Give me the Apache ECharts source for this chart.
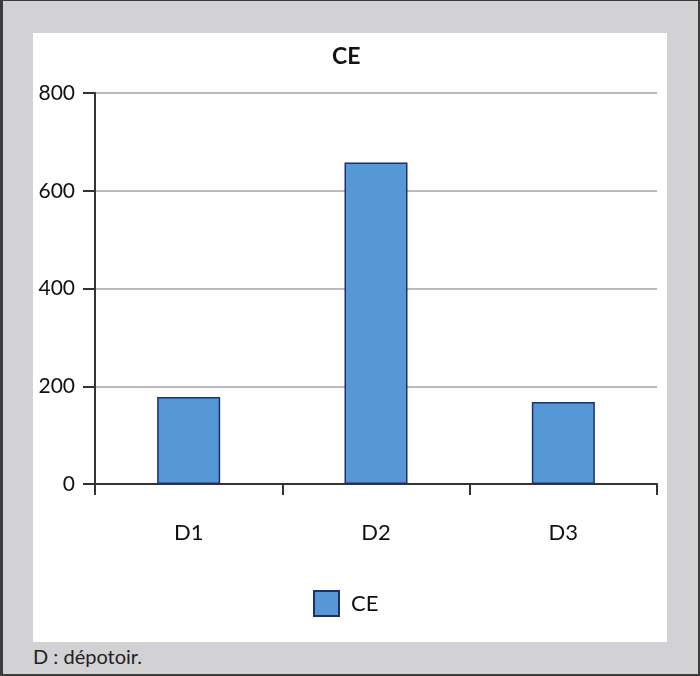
<!DOCTYPE html>
<html>
<head>
<meta charset="utf-8">
<script src="https://cdn.jsdelivr.net/npm/echarts@6/dist/echarts.min.js"></script>
<style>
html,body{margin:0;padding:0;background:#d2d2d4;}
#frame{position:absolute;left:0;top:0;width:695px;height:673px;border-left:3px solid #3c3c3c;border-right:2px solid #3c3c3c;border-top:1px solid #3c3c3c;border-bottom:2px solid #3c3c3c;background:#d2d2d4;}
#chart{position:absolute;left:30px;top:32px;width:634px;height:609px;background:#fff;}
#caption{position:absolute;left:30px;top:643px;font-family:Lato,"Open Sans",sans-serif;font-size:20px;color:#222;}
</style>
</head>
<body>
<div id="frame">
<div id="chart"></div>
<div id="caption">D : dépotoir.</div>
</div>
<script>
const categories = ['D1', 'D2', 'D3'];
const seriesName = 'CE';
const values = [178, 658, 168];
const yTicks = [0, 200, 400, 600, 800];

const chart = echarts.init(document.getElementById('chart'));
const font = 'Lato, "Open Sans", sans-serif';
chart.setOption({
  animation: false,
  backgroundColor: '#ffffff',
  title: {
    text: 'CE',
    left: 294, top: 7,
    textStyle: {fontFamily: font, fontWeight: 'bold', fontSize: 23, color: '#111'}
  },
  legend: {
    data: [{name: seriesName, icon: 'rect'}],
    left: 275, top: 552,
    itemWidth: 25, itemHeight: 25,
    itemGap: 10,
    textStyle: {fontFamily: font, fontSize: 22, color: '#111', padding: [0, 0, 0, 7]}
  },
  grid: {left: 62, right: 10, top: 60, bottom: 158, containLabel: false},
  xAxis: {
    type: 'category',
    data: categories,
    axisLine: {lineStyle: {color: '#333', width: 2}},
    axisTick: {show: true, alignWithLabel: false, length: 11, lineStyle: {color: '#333', width: 2}},
    axisLabel: {fontFamily: font, fontSize: 22, color: '#111', margin: 38}
  },
  yAxis: {
    type: 'value',
    min: yTicks[0], max: yTicks[yTicks.length - 1], interval: 200,
    axisLine: {show: true, lineStyle: {color: '#333', width: 2}},
    axisTick: {show: true, length: 12, lineStyle: {color: '#333', width: 2}},
    axisLabel: {fontFamily: font, fontSize: 21, color: '#111', margin: 20},
    splitLine: {lineStyle: {color: '#a4a4a4', width: 1.5}}
  },
  series: [{
    name: seriesName,
    type: 'bar',
    data: values,
    barWidth: 63,
    itemStyle: {color: '#5698d6', borderColor: '#1c2f6e', borderWidth: 1.5}
  }]
});
</script>
</body>
</html>
